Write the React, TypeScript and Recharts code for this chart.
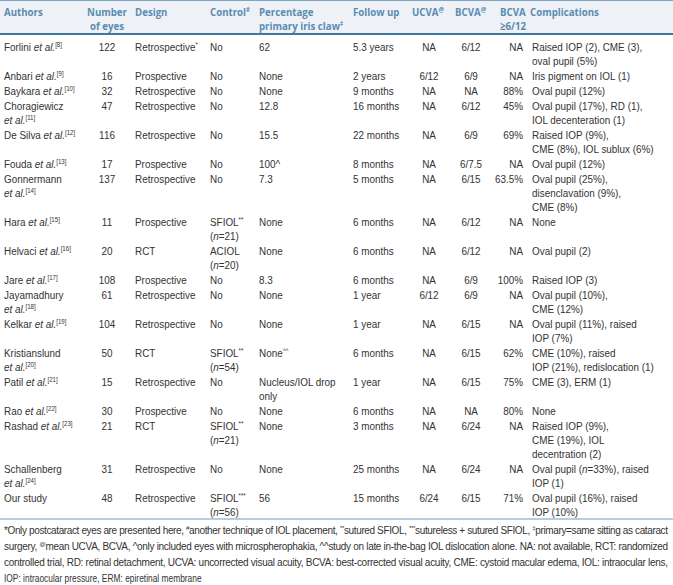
import React from 'react';
import { ScatterChart, Scatter, XAxis, YAxis, ReferenceArea, ReferenceLine } from 'recharts';

// table content, one array per column
const headers = [
  'Authors',
  'Number\nof eyes',
  'Design',
  'Control<sup>#</sup>',
  'Percentage\nprimary iris claw<sup>‡</sup>',
  'Follow up',
  'UCVA<sup>@</sup>',
  'BCVA<sup>@</sup>',
  'BCVA\n≥6/12',
  'Complications',
];

const authors = [
  'Forlini <i>et al.</i>',
  'Anbari <i>et al.</i>',
  'Baykara <i>et al.</i>',
  'Choragiewicz\n<i>et al.</i>',
  'De Silva <i>et al.</i>',
  'Fouda <i>et al.</i>',
  'Gonnermann\n<i>et al.</i>',
  'Hara <i>et al.</i>',
  'Helvaci <i>et al.</i>',
  'Jare <i>et al.</i>',
  'Jayamadhury\n<i>et al.</i>',
  'Kelkar <i>et al.</i>',
  'Kristianslund\n<i>et al.</i>',
  'Patil <i>et al.</i>',
  'Rao <i>et al.</i>',
  'Rashad <i>et al.</i>',
  'Schallenberg\n<i>et al.</i>',
  'Our study',
];
const refs = [8, 9, 10, 11, 12, 13, 14, 15, 16, 17, 18, 19, 20, 21, 22, 23, 24, null];

const eyes = [122, 16, 32, 47, 116, 17, 137, 11, 20, 108, 61, 104, 50, 15, 30, 21, 31, 48];

const design = [
  'Retrospective<sup>*</sup>', 'Prospective', 'Retrospective', 'Retrospective', 'Retrospective',
  'Prospective', 'Retrospective', 'Prospective', 'RCT', 'Prospective', 'Retrospective',
  'Retrospective', 'RCT', 'Retrospective', 'Prospective', 'RCT', 'Retrospective', 'Retrospective',
];

const control = [
  'No', 'No', 'No', 'No', 'No', 'No', 'No',
  'SFIOL<sup>**</sup>\n(<i>n</i>=21)',
  'ACIOL\n(<i>n</i>=20)',
  'No', 'No', 'No',
  'SFIOL<sup>**</sup>\n(<i>n</i>=54)',
  'No', 'No',
  'SFIOL<sup>**</sup>\n(<i>n</i>=21)',
  'No',
  'SFIOL<sup>***</sup>\n(<i>n</i>=56)',
];

const primaryClaw = [
  '62', 'None', 'None', '12.8', '15.5', '100^', '7.3', 'None', 'None', '8.3', 'None', 'None',
  'None<sup>^^</sup>', 'Nucleus/IOL drop\nonly', 'None', 'None', 'None', '56',
];

const followUp = [
  '5.3 years', '2 years', '9 months', '16 months', '22 months', '8 months', '5 months', '6 months',
  '6 months', '6 months', '1 year', '1 year', '6 months', '1 year', '6 months', '3 months',
  '25 months', '15 months',
];

const ucva = ['NA', '6/12', 'NA', 'NA', 'NA', 'NA', 'NA', 'NA', 'NA', 'NA', '6/12', 'NA', 'NA', 'NA', 'NA', 'NA', 'NA', '6/24'];
const bcva = ['6/12', '6/9', 'NA', '6/12', '6/9', '6/7.5', '6/15', '6/12', '6/12', '6/9', '6/9', '6/15', '6/15', '6/15', 'NA', '6/24', '6/24', '6/15'];
const bcva612 = ['NA', 'NA', '88%', '45%', '69%', 'NA', '63.5%', 'NA', 'NA', '100%', 'NA', 'NA', '62%', '75%', '80%', 'NA', 'NA', '71%'];

const complications = [
  'Raised IOP (2), CME (3),\noval pupil (5%)',
  'Iris pigment on IOL (1)',
  'Oval pupil (12%)',
  'Oval pupil (17%), RD (1),\nIOL decenteration (1)',
  'Raised IOP (9%),\nCME (8%), IOL sublux (6%)',
  'Oval pupil (12%)',
  'Oval pupil (25%),\ndisenclavation (9%),\nCME (8%)',
  'None',
  'Oval pupil (2)',
  'Raised IOP (3)',
  'Oval pupil (10%),\nCME (12%)',
  'Oval pupil (11%), raised\nIOP (7%)',
  'CME (10%), raised\nIOP (21%), redislocation (1)',
  'CME (3), ERM (1)',
  'None',
  'Raised IOP (9%),\nCME (19%), IOL\ndecentration (2)',
  'Oval pupil (<i>n</i>=33%), raised\nIOP (1)',
  'Oval pupil (16%), raised\nIOP (10%)',
];

const footnotes = [
  '*Only postcataract eyes are presented here, <sup>#</sup>another technique of IOL placement, <sup>**</sup>sutured SFIOL, <sup>***</sup>sutureless + sutured SFIOL, <sup>‡</sup>primary=same sitting as cataract',
  'surgery, <sup>@</sup>mean UCVA, BCVA, ^only included eyes with microspherophakia, ^^study on late in-the-bag IOL dislocation alone. NA: not available, RCT: randomized',
  'controlled trial, RD: retinal detachment, UCVA: uncorrected visual acuity, BCVA: best-corrected visual acuity, CME: cystoid macular edema, IOL: intraocular lens,',
  'IOP: intraocular pressure, ERM: epiretinal membrane',
];

// layout
const W = 673;
const H = 585;
const LINE = 14;
const ROW_PAD = 1;
const BODY_TOP = 40;
const FONT = '"Liberation Sans", Arial, sans-serif';
const HEAD_FONT = '"Open Sans", "Liberation Sans", sans-serif';
const TEXT = '#333333';
const HEAD = '#5a8cb2';
const BODY_SX = 0.9;

type Anchor = 'start' | 'middle' | 'end';
const HEAD_COLS: { x: number; anchor: Anchor }[] = [
  { x: 4, anchor: 'start' },
  { x: 107, anchor: 'middle' },
  { x: 135, anchor: 'start' },
  { x: 210, anchor: 'start' },
  { x: 259, anchor: 'start' },
  { x: 353, anchor: 'start' },
  { x: 412, anchor: 'start' },
  { x: 455, anchor: 'start' },
  { x: 500, anchor: 'start' },
  { x: 530, anchor: 'start' },
];
const BODY_COLS: { x: number; anchor: Anchor }[] = [
  { x: 4, anchor: 'start' },
  { x: 107, anchor: 'middle' },
  { x: 135, anchor: 'start' },
  { x: 210, anchor: 'start' },
  { x: 259, anchor: 'start' },
  { x: 353, anchor: 'start' },
  { x: 429, anchor: 'middle' },
  { x: 471, anchor: 'middle' },
  { x: 523, anchor: 'end' },
  { x: 532, anchor: 'start' },
];

const authorCells = authors.map((a, i) => (refs[i] == null ? a : `${a}<sup>[${refs[i]}]</sup>`));
const columns = [authorCells, eyes.map(String), design, control, primaryClaw, followUp, ucva, bcva, bcva612, complications];

const rowLines = authors.map((_, i) => Math.max(...columns.map((col) => col[i].split('\n').length)));
const rowCenter: number[] = [];
rowLines.reduce((top, n, i) => {
  rowCenter[i] = top + LINE / 2;
  return top + n * LINE + ROW_PAD;
}, BODY_TOP);

type Seg = { t: string; i: boolean; sup: boolean };
function parseRich(s: string): Seg[] {
  return s
    .split(/(<i>.*?<\/i>|<sup>.*?<\/sup>)/)
    .filter(Boolean)
    .map((p) => {
      if (p.startsWith('<i>')) return { t: p.slice(3, -4), i: true, sup: false };
      if (p.startsWith('<sup>')) return { t: p.slice(5, -6), i: false, sup: true };
      return { t: p, i: false, sup: false };
    });
}

interface LineProps {
  text: string;
  x: number;
  y: number;
  anchor: Anchor;
  size: number;
  sx: number;
  bold?: boolean;
  color: string;
  family?: string;
  textLength?: number;
}

function RichLine({ text, x, y, anchor, size, sx, bold, color, family, textLength }: LineProps) {
  let raised = false;
  return (
    <text
      transform={`translate(${x} ${y}) scale(${sx} 1)`}
      textAnchor={anchor}
      fontSize={size}
      fontWeight={bold ? 700 : 400}
      fontFamily={family || FONT}
      fill={color}
      style={{ whiteSpace: 'pre' }}
      textLength={textLength}
      lengthAdjust={textLength ? 'spacing' : undefined}
    >
      {parseRich(text).map((s, k) => {
        let dy = 0;
        if (s.sup && !raised) {
          dy = -size * 0.4;
          raised = true;
        } else if (!s.sup && raised) {
          dy = size * 0.4;
          raised = false;
        }
        return (
          <tspan
            key={k}
            dy={dy || undefined}
            fontSize={s.sup ? size * 0.62 : undefined}
            fontStyle={s.i ? 'italic' : undefined}
          >
            {s.t}
          </tspan>
        );
      })}
    </text>
  );
}

function cellShape(size: number, sx: number, color: string, bold: boolean, anchor: Anchor, family?: string) {
  return (props: any) => {
    const { cx, cy, payload } = props;
    if (cx == null || cy == null) return null;
    const lines: string[] = payload.text.split('\n');
    return (
      <g>
        {lines.map((l, k) => (
          <RichLine
            key={k}
            text={l}
            x={cx}
            y={cy + 4 + k * LINE}
            anchor={anchor}
            size={size}
            sx={sx}
            bold={bold}
            color={color}
            family={family}
          />
        ))}
      </g>
    );
  };
}

function footShape(props: any) {
  const { cx, cy, payload } = props;
  if (cx == null || cy == null) return null;
  return (
    <RichLine
      text={payload.text}
      x={cx}
      y={cy + 3.5}
      anchor="start"
      size={10}
      sx={payload.full ? 1 : 0.84}
      color={TEXT}
      textLength={payload.full ? 664 : undefined}
    />
  );
}

export default function App() {
  const footData = footnotes.map((t, k) => ({ x: 4, y: 530 + k * 16, text: t, full: k < footnotes.length - 1 }));
  return (
    <div style={{ position: 'absolute', left: 0, top: 0, width: W, height: H, background: '#ffffff' }}>
      <ScatterChart width={W} height={H} margin={{ top: 0, right: 0, bottom: 0, left: 0 }}>
        <XAxis type="number" dataKey="x" domain={[0, W]} hide />
        <YAxis type="number" dataKey="y" domain={[0, H]} reversed hide />
        <ReferenceArea x1={0} x2={W} y1={0} y2={34} fill="#eef2f6" fillOpacity={1} stroke="none" />
        <ReferenceLine y={0.5} stroke="#7ea5c2" strokeWidth={1} />
        <ReferenceLine y={34} stroke="#3f78a2" strokeWidth={2} />
        <ReferenceLine y={519} stroke="#6f9cbd" strokeWidth={1} />
        {headers.map((h, c) => (
          <Scatter
            key={`h${c}`}
            data={[{ x: HEAD_COLS[c].x, y: 12, text: h }]}
            shape={cellShape(11, 0.88, HEAD, true, HEAD_COLS[c].anchor, HEAD_FONT)}
            isAnimationActive={false}
          />
        ))}
        {columns.map((col, c) => (
          <Scatter
            key={`c${c}`}
            data={col.map((t, i) => ({ x: BODY_COLS[c].x, y: rowCenter[i], text: t }))}
            shape={cellShape(11, BODY_SX, TEXT, false, BODY_COLS[c].anchor)}
            isAnimationActive={false}
          />
        ))}
        <Scatter data={footData} shape={footShape} isAnimationActive={false} />
      </ScatterChart>
    </div>
  );
}
